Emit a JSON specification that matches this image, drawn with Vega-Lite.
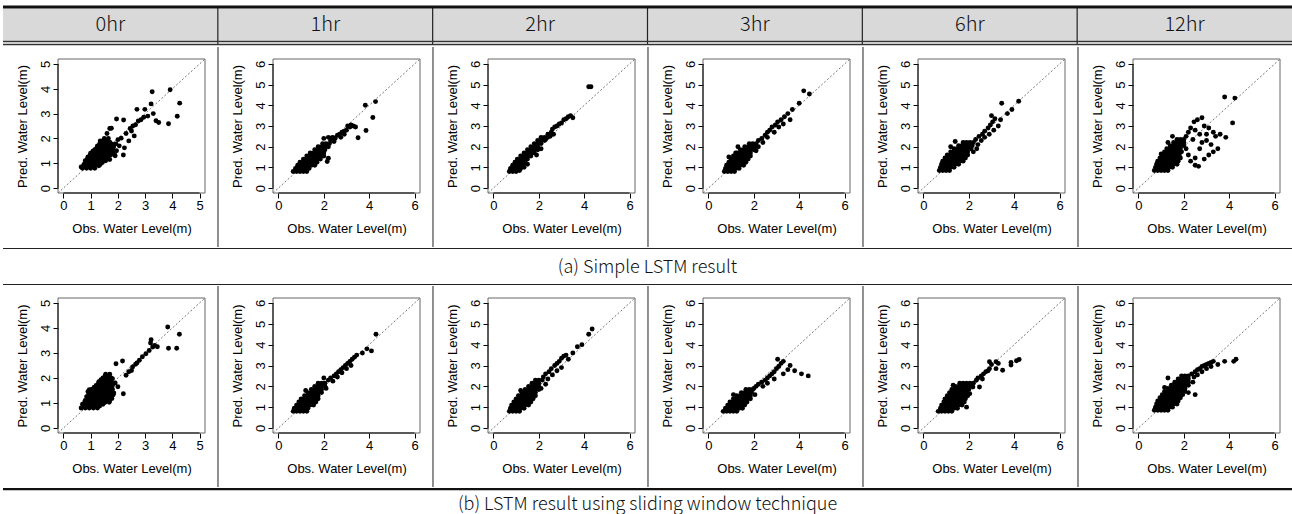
{
"$schema":"https://vega.github.io/schema/vega-lite/v6.json",
"padding":{"left":1,"top":5,"right":0,"bottom":0},
"background":"white",
"spacing":0,
"config":{"view":{"stroke":null},"concat":{"spacing":0},
 "circle":{"size":24,"color":"#000","opacity":1},
 "axis":{"domain":false,"grid":false,"tickSize":5,"tickColor":"#000","labelFont":"Liberation Sans","labelFontSize":13,"labelColor":"#000","labelFlush":false,"titleFont":"Liberation Sans","titleFontSize":13,"titleFontWeight":"normal","titleColor":"#000"},
 "axisX":{"offset":-54,"labelPadding":1,"titlePadding":10},
 "axisY":{"offset":-55,"labelPadding":1,"titlePadding":10}},
"datasets":{
"a0":[{"x":0.70,"y":0.80},{"x":0.85,"y":0.80},{"x":1.00,"y":0.80},{"x":1.15,"y":0.80},{"x":0.75,"y":0.95},{"x":0.90,"y":0.95},{"x":1.05,"y":0.95},{"x":1.20,"y":0.95},{"x":1.35,"y":0.95},{"x":0.80,"y":1.10},{"x":0.95,"y":1.10},{"x":1.10,"y":1.10},{"x":1.25,"y":1.10},{"x":1.40,"y":1.10},{"x":1.55,"y":1.10},{"x":0.90,"y":1.25},{"x":1.05,"y":1.25},{"x":1.20,"y":1.25},{"x":1.35,"y":1.25},{"x":1.50,"y":1.25},{"x":1.65,"y":1.25},{"x":1.00,"y":1.40},{"x":1.15,"y":1.40},{"x":1.30,"y":1.40},{"x":1.45,"y":1.40},{"x":1.60,"y":1.40},{"x":1.75,"y":1.40},{"x":1.15,"y":1.55},{"x":1.30,"y":1.55},{"x":1.45,"y":1.55},{"x":1.60,"y":1.55},{"x":1.75,"y":1.55},{"x":1.25,"y":1.70},{"x":1.40,"y":1.70},{"x":1.55,"y":1.70},{"x":1.70,"y":1.70},{"x":1.85,"y":1.70},{"x":1.40,"y":1.85},{"x":1.55,"y":1.85},{"x":1.70,"y":1.85},{"x":1.50,"y":2.00},{"x":1.65,"y":2.00},{"x":0.78,"y":0.88},{"x":0.93,"y":0.88},{"x":1.08,"y":0.88},{"x":0.83,"y":1.03},{"x":0.98,"y":1.03},{"x":1.13,"y":1.03},{"x":1.28,"y":1.03},{"x":1.43,"y":1.03},{"x":0.88,"y":1.18},{"x":1.03,"y":1.18},{"x":1.18,"y":1.18},{"x":1.33,"y":1.18},{"x":1.48,"y":1.18},{"x":1.63,"y":1.18},{"x":0.98,"y":1.33},{"x":1.13,"y":1.33},{"x":1.28,"y":1.33},{"x":1.43,"y":1.33},{"x":1.58,"y":1.33},{"x":1.73,"y":1.33},{"x":1.88,"y":1.33},{"x":1.08,"y":1.48},{"x":1.23,"y":1.48},{"x":1.38,"y":1.48},{"x":1.53,"y":1.48},{"x":1.68,"y":1.48},{"x":1.83,"y":1.48},{"x":1.23,"y":1.63},{"x":1.38,"y":1.63},{"x":1.53,"y":1.63},{"x":1.68,"y":1.63},{"x":1.83,"y":1.63},{"x":1.33,"y":1.78},{"x":1.48,"y":1.78},{"x":1.63,"y":1.78},{"x":1.78,"y":1.78},{"x":1.93,"y":1.78},{"x":1.48,"y":1.93},{"x":1.63,"y":1.93},{"x":1.90,"y":1.30},{"x":1.95,"y":1.50},{"x":2.05,"y":1.70},{"x":2.00,"y":1.95},{"x":1.35,"y":1.90},{"x":1.60,"y":2.20},{"x":1.70,"y":2.40},{"x":0.65,"y":0.85},{"x":1.30,"y":0.90},{"x":1.70,"y":1.15},{"x":2.20,"y":1.33},{"x":2.24,"y":1.62},{"x":2.12,"y":2.01},{"x":1.95,"y":2.78},{"x":2.21,"y":2.74},{"x":1.76,"y":2.41},{"x":2.30,"y":2.20},{"x":2.45,"y":2.40},{"x":2.55,"y":2.50},{"x":2.65,"y":2.55},{"x":2.75,"y":2.70},{"x":2.85,"y":2.75},{"x":2.95,"y":2.85},{"x":2.50,"y":2.30},{"x":2.70,"y":3.17},{"x":2.99,"y":3.17},{"x":3.22,"y":3.39},{"x":3.30,"y":3.00},{"x":3.26,"y":3.88},{"x":3.92,"y":3.96},{"x":4.27,"y":3.42},{"x":4.18,"y":2.89},{"x":3.86,"y":2.59},{"x":3.50,"y":2.64},{"x":3.40,"y":2.71},{"x":3.10,"y":2.90},{"x":2.40,"y":1.90},{"x":2.60,"y":2.10}],
"a1":[{"x":0.65,"y":0.80},{"x":0.80,"y":0.80},{"x":0.95,"y":0.80},{"x":1.10,"y":0.80},{"x":1.25,"y":0.80},{"x":0.75,"y":0.95},{"x":0.90,"y":0.95},{"x":1.05,"y":0.95},{"x":1.20,"y":0.95},{"x":1.35,"y":0.95},{"x":0.85,"y":1.10},{"x":1.00,"y":1.10},{"x":1.15,"y":1.10},{"x":1.30,"y":1.10},{"x":1.45,"y":1.10},{"x":1.60,"y":1.10},{"x":0.95,"y":1.25},{"x":1.10,"y":1.25},{"x":1.25,"y":1.25},{"x":1.40,"y":1.25},{"x":1.55,"y":1.25},{"x":1.70,"y":1.25},{"x":1.10,"y":1.40},{"x":1.25,"y":1.40},{"x":1.40,"y":1.40},{"x":1.55,"y":1.40},{"x":1.70,"y":1.40},{"x":1.85,"y":1.40},{"x":1.25,"y":1.55},{"x":1.40,"y":1.55},{"x":1.55,"y":1.55},{"x":1.70,"y":1.55},{"x":1.85,"y":1.55},{"x":2.00,"y":1.55},{"x":1.40,"y":1.70},{"x":1.55,"y":1.70},{"x":1.70,"y":1.70},{"x":1.85,"y":1.70},{"x":2.00,"y":1.70},{"x":1.60,"y":1.85},{"x":1.75,"y":1.85},{"x":1.90,"y":1.85},{"x":2.05,"y":1.85},{"x":1.75,"y":2.00},{"x":1.90,"y":2.00},{"x":2.05,"y":2.00},{"x":2.20,"y":2.00},{"x":1.95,"y":2.15},{"x":2.10,"y":2.15},{"x":2.25,"y":2.15},{"x":2.30,"y":2.30},{"x":2.40,"y":2.45},{"x":2.50,"y":2.40},{"x":2.60,"y":2.55},{"x":2.70,"y":2.60},{"x":2.80,"y":2.70},{"x":2.90,"y":2.75},{"x":3.00,"y":2.80},{"x":3.05,"y":3.00},{"x":3.15,"y":2.95},{"x":3.20,"y":3.05},{"x":3.30,"y":3.00},{"x":3.40,"y":2.95},{"x":2.20,"y":1.44},{"x":2.15,"y":1.28},{"x":2.45,"y":2.25},{"x":2.00,"y":2.40},{"x":2.20,"y":2.45},{"x":2.35,"y":2.42},{"x":3.51,"y":2.43},{"x":3.86,"y":2.78},{"x":3.83,"y":4.00},{"x":4.28,"y":4.18},{"x":4.16,"y":3.41},{"x":2.90,"y":2.60},{"x":2.75,"y":2.45}],
"a2":[{"x":0.70,"y":0.80},{"x":0.85,"y":0.80},{"x":1.00,"y":0.80},{"x":0.75,"y":0.95},{"x":0.90,"y":0.95},{"x":1.05,"y":0.95},{"x":1.20,"y":0.95},{"x":0.85,"y":1.10},{"x":1.00,"y":1.10},{"x":1.15,"y":1.10},{"x":1.30,"y":1.10},{"x":0.95,"y":1.25},{"x":1.10,"y":1.25},{"x":1.25,"y":1.25},{"x":1.40,"y":1.25},{"x":1.05,"y":1.40},{"x":1.20,"y":1.40},{"x":1.35,"y":1.40},{"x":1.50,"y":1.40},{"x":1.20,"y":1.55},{"x":1.35,"y":1.55},{"x":1.50,"y":1.55},{"x":1.65,"y":1.55},{"x":1.35,"y":1.70},{"x":1.50,"y":1.70},{"x":1.65,"y":1.70},{"x":1.80,"y":1.70},{"x":1.50,"y":1.85},{"x":1.65,"y":1.85},{"x":1.80,"y":1.85},{"x":1.95,"y":1.85},{"x":1.65,"y":2.00},{"x":1.80,"y":2.00},{"x":1.95,"y":2.00},{"x":1.80,"y":2.15},{"x":1.95,"y":2.15},{"x":2.10,"y":2.15},{"x":1.95,"y":2.30},{"x":2.10,"y":2.30},{"x":2.25,"y":2.30},{"x":2.10,"y":2.45},{"x":2.25,"y":2.45},{"x":2.40,"y":2.45},{"x":2.40,"y":2.60},{"x":2.55,"y":2.70},{"x":2.60,"y":2.85},{"x":2.70,"y":2.95},{"x":2.80,"y":3.00},{"x":2.90,"y":3.10},{"x":3.00,"y":3.15},{"x":3.10,"y":3.30},{"x":3.20,"y":3.35},{"x":3.30,"y":3.45},{"x":3.40,"y":3.50},{"x":2.50,"y":2.50},{"x":2.65,"y":2.60},{"x":2.30,"y":2.35},{"x":1.15,"y":0.85},{"x":1.35,"y":1.00},{"x":1.50,"y":1.15},{"x":1.90,"y":1.60},{"x":2.10,"y":1.90},{"x":4.20,"y":4.90},{"x":4.30,"y":4.90},{"x":3.50,"y":3.40}],
"a3":[{"x":0.70,"y":0.80},{"x":0.85,"y":0.80},{"x":1.00,"y":0.80},{"x":1.15,"y":0.80},{"x":0.75,"y":0.95},{"x":0.90,"y":0.95},{"x":1.05,"y":0.95},{"x":1.20,"y":0.95},{"x":1.35,"y":0.95},{"x":0.80,"y":1.10},{"x":0.95,"y":1.10},{"x":1.10,"y":1.10},{"x":1.25,"y":1.10},{"x":1.40,"y":1.10},{"x":1.55,"y":1.10},{"x":0.90,"y":1.25},{"x":1.05,"y":1.25},{"x":1.20,"y":1.25},{"x":1.35,"y":1.25},{"x":1.50,"y":1.25},{"x":1.65,"y":1.25},{"x":1.00,"y":1.40},{"x":1.15,"y":1.40},{"x":1.30,"y":1.40},{"x":1.45,"y":1.40},{"x":1.60,"y":1.40},{"x":1.75,"y":1.40},{"x":1.10,"y":1.55},{"x":1.25,"y":1.55},{"x":1.40,"y":1.55},{"x":1.55,"y":1.55},{"x":1.70,"y":1.55},{"x":1.85,"y":1.55},{"x":1.25,"y":1.70},{"x":1.40,"y":1.70},{"x":1.55,"y":1.70},{"x":1.70,"y":1.70},{"x":1.85,"y":1.70},{"x":1.40,"y":1.85},{"x":1.55,"y":1.85},{"x":1.70,"y":1.85},{"x":1.85,"y":1.85},{"x":2.00,"y":1.85},{"x":1.60,"y":2.00},{"x":1.75,"y":2.00},{"x":1.90,"y":2.00},{"x":2.05,"y":2.00},{"x":1.80,"y":2.15},{"x":1.95,"y":2.15},{"x":2.10,"y":2.15},{"x":2.20,"y":2.30},{"x":2.35,"y":2.40},{"x":2.50,"y":2.55},{"x":2.60,"y":2.70},{"x":2.70,"y":2.80},{"x":2.80,"y":2.95},{"x":2.95,"y":3.05},{"x":3.05,"y":3.20},{"x":3.20,"y":3.30},{"x":3.35,"y":3.45},{"x":3.50,"y":3.60},{"x":2.40,"y":2.20},{"x":2.60,"y":2.45},{"x":2.90,"y":2.70},{"x":3.10,"y":2.95},{"x":3.30,"y":3.10},{"x":2.10,"y":1.80},{"x":2.20,"y":2.00},{"x":1.30,"y":2.00},{"x":1.20,"y":1.70},{"x":4.20,"y":4.70},{"x":4.45,"y":4.55},{"x":4.00,"y":4.10},{"x":3.70,"y":3.80},{"x":3.60,"y":3.30},{"x":0.90,"y":1.50}],
"a4":[{"x":0.70,"y":0.85},{"x":0.85,"y":0.85},{"x":1.00,"y":0.85},{"x":1.15,"y":0.85},{"x":0.75,"y":1.00},{"x":0.90,"y":1.00},{"x":1.05,"y":1.00},{"x":1.20,"y":1.00},{"x":1.35,"y":1.00},{"x":0.80,"y":1.15},{"x":0.95,"y":1.15},{"x":1.10,"y":1.15},{"x":1.25,"y":1.15},{"x":1.40,"y":1.15},{"x":1.55,"y":1.15},{"x":0.85,"y":1.30},{"x":1.00,"y":1.30},{"x":1.15,"y":1.30},{"x":1.30,"y":1.30},{"x":1.45,"y":1.30},{"x":1.60,"y":1.30},{"x":1.75,"y":1.30},{"x":0.95,"y":1.45},{"x":1.10,"y":1.45},{"x":1.25,"y":1.45},{"x":1.40,"y":1.45},{"x":1.55,"y":1.45},{"x":1.70,"y":1.45},{"x":1.85,"y":1.45},{"x":1.05,"y":1.60},{"x":1.20,"y":1.60},{"x":1.35,"y":1.60},{"x":1.50,"y":1.60},{"x":1.65,"y":1.60},{"x":1.80,"y":1.60},{"x":1.95,"y":1.60},{"x":1.20,"y":1.75},{"x":1.35,"y":1.75},{"x":1.50,"y":1.75},{"x":1.65,"y":1.75},{"x":1.80,"y":1.75},{"x":1.95,"y":1.75},{"x":1.35,"y":1.90},{"x":1.50,"y":1.90},{"x":1.65,"y":1.90},{"x":1.80,"y":1.90},{"x":1.95,"y":1.90},{"x":2.10,"y":1.90},{"x":1.55,"y":2.05},{"x":1.70,"y":2.05},{"x":1.85,"y":2.05},{"x":2.00,"y":2.05},{"x":2.15,"y":2.05},{"x":1.75,"y":2.20},{"x":1.90,"y":2.20},{"x":2.05,"y":2.20},{"x":2.20,"y":2.20},{"x":2.30,"y":2.35},{"x":2.45,"y":2.50},{"x":2.60,"y":2.60},{"x":2.70,"y":2.75},{"x":2.85,"y":2.90},{"x":2.95,"y":3.05},{"x":3.05,"y":3.20},{"x":3.15,"y":3.35},{"x":2.40,"y":2.10},{"x":2.55,"y":2.30},{"x":2.70,"y":2.45},{"x":2.90,"y":2.60},{"x":3.10,"y":2.80},{"x":3.30,"y":3.00},{"x":2.20,"y":1.75},{"x":2.35,"y":1.90},{"x":1.20,"y":2.00},{"x":1.40,"y":2.25},{"x":3.45,"y":4.10},{"x":3.70,"y":3.60},{"x":4.20,"y":4.20},{"x":3.90,"y":3.80},{"x":3.40,"y":3.30},{"x":3.00,"y":3.50}],
"a5":[{"x":0.70,"y":0.85},{"x":0.85,"y":0.85},{"x":1.00,"y":0.85},{"x":1.15,"y":0.85},{"x":1.30,"y":0.85},{"x":0.75,"y":1.00},{"x":0.90,"y":1.00},{"x":1.05,"y":1.00},{"x":1.20,"y":1.00},{"x":1.35,"y":1.00},{"x":1.50,"y":1.00},{"x":0.80,"y":1.15},{"x":0.95,"y":1.15},{"x":1.10,"y":1.15},{"x":1.25,"y":1.15},{"x":1.40,"y":1.15},{"x":1.55,"y":1.15},{"x":1.70,"y":1.15},{"x":0.85,"y":1.30},{"x":1.00,"y":1.30},{"x":1.15,"y":1.30},{"x":1.30,"y":1.30},{"x":1.45,"y":1.30},{"x":1.60,"y":1.30},{"x":1.75,"y":1.30},{"x":0.95,"y":1.45},{"x":1.10,"y":1.45},{"x":1.25,"y":1.45},{"x":1.40,"y":1.45},{"x":1.55,"y":1.45},{"x":1.70,"y":1.45},{"x":1.85,"y":1.45},{"x":1.05,"y":1.60},{"x":1.20,"y":1.60},{"x":1.35,"y":1.60},{"x":1.50,"y":1.60},{"x":1.65,"y":1.60},{"x":1.80,"y":1.60},{"x":1.15,"y":1.75},{"x":1.30,"y":1.75},{"x":1.45,"y":1.75},{"x":1.60,"y":1.75},{"x":1.75,"y":1.75},{"x":1.90,"y":1.75},{"x":1.25,"y":1.90},{"x":1.40,"y":1.90},{"x":1.55,"y":1.90},{"x":1.70,"y":1.90},{"x":1.85,"y":1.90},{"x":1.40,"y":2.05},{"x":1.55,"y":2.05},{"x":1.70,"y":2.05},{"x":1.85,"y":2.05},{"x":2.00,"y":2.05},{"x":1.55,"y":2.20},{"x":1.70,"y":2.20},{"x":1.85,"y":2.20},{"x":2.00,"y":2.20},{"x":1.70,"y":2.35},{"x":1.85,"y":2.35},{"x":2.00,"y":2.35},{"x":2.10,"y":2.50},{"x":2.20,"y":2.70},{"x":2.30,"y":2.90},{"x":2.45,"y":3.20},{"x":2.60,"y":3.30},{"x":2.80,"y":3.40},{"x":2.50,"y":2.80},{"x":2.70,"y":2.60},{"x":2.90,"y":3.00},{"x":3.10,"y":2.90},{"x":3.30,"y":2.70},{"x":3.40,"y":2.50},{"x":3.00,"y":2.30},{"x":2.80,"y":2.20},{"x":3.20,"y":2.10},{"x":3.50,"y":1.90},{"x":3.30,"y":1.75},{"x":3.10,"y":1.60},{"x":2.90,"y":1.40},{"x":2.70,"y":1.90},{"x":2.50,"y":1.45},{"x":2.30,"y":1.30},{"x":2.50,"y":1.10},{"x":2.65,"y":1.05},{"x":2.20,"y":1.60},{"x":2.10,"y":1.90},{"x":1.30,"y":2.20},{"x":1.50,"y":2.50},{"x":1.00,"y":1.65},{"x":3.80,"y":4.40},{"x":4.25,"y":4.35},{"x":4.15,"y":3.15},{"x":3.85,"y":2.45},{"x":3.60,"y":2.60},{"x":3.00,"y":2.60},{"x":2.40,"y":2.35}],
"b0":[{"x":0.65,"y":0.80},{"x":0.80,"y":0.80},{"x":0.95,"y":0.80},{"x":1.10,"y":0.80},{"x":1.25,"y":0.80},{"x":0.70,"y":0.95},{"x":0.85,"y":0.95},{"x":1.00,"y":0.95},{"x":1.15,"y":0.95},{"x":1.30,"y":0.95},{"x":1.45,"y":0.95},{"x":0.80,"y":1.10},{"x":0.95,"y":1.10},{"x":1.10,"y":1.10},{"x":1.25,"y":1.10},{"x":1.40,"y":1.10},{"x":1.55,"y":1.10},{"x":1.70,"y":1.10},{"x":0.85,"y":1.25},{"x":1.00,"y":1.25},{"x":1.15,"y":1.25},{"x":1.30,"y":1.25},{"x":1.45,"y":1.25},{"x":1.60,"y":1.25},{"x":1.75,"y":1.25},{"x":0.95,"y":1.40},{"x":1.10,"y":1.40},{"x":1.25,"y":1.40},{"x":1.40,"y":1.40},{"x":1.55,"y":1.40},{"x":1.70,"y":1.40},{"x":1.85,"y":1.40},{"x":1.05,"y":1.55},{"x":1.20,"y":1.55},{"x":1.35,"y":1.55},{"x":1.50,"y":1.55},{"x":1.65,"y":1.55},{"x":1.80,"y":1.55},{"x":1.20,"y":1.70},{"x":1.35,"y":1.70},{"x":1.50,"y":1.70},{"x":1.65,"y":1.70},{"x":1.80,"y":1.70},{"x":1.30,"y":1.85},{"x":1.45,"y":1.85},{"x":1.60,"y":1.85},{"x":1.75,"y":1.85},{"x":1.45,"y":2.00},{"x":1.60,"y":2.00},{"x":1.75,"y":2.00},{"x":1.55,"y":2.15},{"x":1.70,"y":2.15},{"x":0.73,"y":0.88},{"x":0.88,"y":0.88},{"x":1.03,"y":0.88},{"x":1.18,"y":0.88},{"x":1.33,"y":0.88},{"x":0.78,"y":1.03},{"x":0.93,"y":1.03},{"x":1.08,"y":1.03},{"x":1.23,"y":1.03},{"x":1.38,"y":1.03},{"x":1.53,"y":1.03},{"x":1.68,"y":1.03},{"x":0.88,"y":1.18},{"x":1.03,"y":1.18},{"x":1.18,"y":1.18},{"x":1.33,"y":1.18},{"x":1.48,"y":1.18},{"x":1.63,"y":1.18},{"x":1.78,"y":1.18},{"x":0.93,"y":1.33},{"x":1.08,"y":1.33},{"x":1.23,"y":1.33},{"x":1.38,"y":1.33},{"x":1.53,"y":1.33},{"x":1.68,"y":1.33},{"x":1.83,"y":1.33},{"x":1.03,"y":1.48},{"x":1.18,"y":1.48},{"x":1.33,"y":1.48},{"x":1.48,"y":1.48},{"x":1.63,"y":1.48},{"x":1.78,"y":1.48},{"x":1.13,"y":1.63},{"x":1.28,"y":1.63},{"x":1.43,"y":1.63},{"x":1.58,"y":1.63},{"x":1.73,"y":1.63},{"x":1.28,"y":1.78},{"x":1.43,"y":1.78},{"x":1.58,"y":1.78},{"x":1.73,"y":1.78},{"x":1.38,"y":1.93},{"x":1.53,"y":1.93},{"x":1.68,"y":1.93},{"x":1.53,"y":2.08},{"x":1.68,"y":2.08},{"x":0.95,"y":1.53},{"x":0.90,"y":1.45},{"x":1.80,"y":1.97},{"x":1.90,"y":1.80},{"x":2.00,"y":1.65},{"x":2.20,"y":1.37},{"x":2.30,"y":2.11},{"x":2.40,"y":2.25},{"x":2.54,"y":2.44},{"x":2.65,"y":2.55},{"x":2.79,"y":2.71},{"x":2.90,"y":2.85},{"x":3.03,"y":2.97},{"x":3.15,"y":3.10},{"x":3.28,"y":3.24},{"x":3.22,"y":3.53},{"x":3.20,"y":3.40},{"x":3.35,"y":3.30},{"x":3.45,"y":3.25},{"x":1.93,"y":2.57},{"x":2.17,"y":2.68},{"x":3.83,"y":4.04},{"x":4.26,"y":3.75},{"x":4.16,"y":3.19},{"x":3.86,"y":3.19},{"x":2.50,"y":2.30},{"x":2.70,"y":2.60}],
"b1":[{"x":0.65,"y":0.80},{"x":0.80,"y":0.80},{"x":0.95,"y":0.80},{"x":1.10,"y":0.80},{"x":1.25,"y":0.80},{"x":0.70,"y":0.95},{"x":0.85,"y":0.95},{"x":1.00,"y":0.95},{"x":1.15,"y":0.95},{"x":1.30,"y":0.95},{"x":0.80,"y":1.10},{"x":0.95,"y":1.10},{"x":1.10,"y":1.10},{"x":1.25,"y":1.10},{"x":1.40,"y":1.10},{"x":1.55,"y":1.10},{"x":0.90,"y":1.25},{"x":1.05,"y":1.25},{"x":1.20,"y":1.25},{"x":1.35,"y":1.25},{"x":1.50,"y":1.25},{"x":1.65,"y":1.25},{"x":1.00,"y":1.40},{"x":1.15,"y":1.40},{"x":1.30,"y":1.40},{"x":1.45,"y":1.40},{"x":1.60,"y":1.40},{"x":1.75,"y":1.40},{"x":1.15,"y":1.55},{"x":1.30,"y":1.55},{"x":1.45,"y":1.55},{"x":1.60,"y":1.55},{"x":1.75,"y":1.55},{"x":1.30,"y":1.70},{"x":1.45,"y":1.70},{"x":1.60,"y":1.70},{"x":1.75,"y":1.70},{"x":1.90,"y":1.70},{"x":1.45,"y":1.85},{"x":1.60,"y":1.85},{"x":1.75,"y":1.85},{"x":1.90,"y":1.85},{"x":1.60,"y":2.00},{"x":1.75,"y":2.00},{"x":1.90,"y":2.00},{"x":2.05,"y":2.00},{"x":1.75,"y":2.15},{"x":1.90,"y":2.15},{"x":2.05,"y":2.15},{"x":2.20,"y":2.30},{"x":2.30,"y":2.40},{"x":2.45,"y":2.50},{"x":2.55,"y":2.60},{"x":2.65,"y":2.70},{"x":2.75,"y":2.80},{"x":2.85,"y":2.90},{"x":2.95,"y":3.00},{"x":3.05,"y":3.10},{"x":3.15,"y":3.20},{"x":3.25,"y":3.30},{"x":3.35,"y":3.40},{"x":3.45,"y":3.50},{"x":2.40,"y":2.25},{"x":2.60,"y":2.45},{"x":2.80,"y":2.65},{"x":3.00,"y":2.85},{"x":3.20,"y":3.00},{"x":2.10,"y":1.90},{"x":2.00,"y":2.40},{"x":3.70,"y":3.60},{"x":3.90,"y":3.80},{"x":4.10,"y":3.70},{"x":4.30,"y":4.50},{"x":1.20,"y":1.80}],
"b2":[{"x":0.70,"y":0.80},{"x":0.85,"y":0.80},{"x":1.00,"y":0.80},{"x":1.15,"y":0.80},{"x":0.75,"y":0.95},{"x":0.90,"y":0.95},{"x":1.05,"y":0.95},{"x":1.20,"y":0.95},{"x":1.35,"y":0.95},{"x":0.80,"y":1.10},{"x":0.95,"y":1.10},{"x":1.10,"y":1.10},{"x":1.25,"y":1.10},{"x":1.40,"y":1.10},{"x":1.55,"y":1.10},{"x":0.90,"y":1.25},{"x":1.05,"y":1.25},{"x":1.20,"y":1.25},{"x":1.35,"y":1.25},{"x":1.50,"y":1.25},{"x":1.65,"y":1.25},{"x":1.00,"y":1.40},{"x":1.15,"y":1.40},{"x":1.30,"y":1.40},{"x":1.45,"y":1.40},{"x":1.60,"y":1.40},{"x":1.75,"y":1.40},{"x":1.10,"y":1.55},{"x":1.25,"y":1.55},{"x":1.40,"y":1.55},{"x":1.55,"y":1.55},{"x":1.70,"y":1.55},{"x":1.85,"y":1.55},{"x":1.25,"y":1.70},{"x":1.40,"y":1.70},{"x":1.55,"y":1.70},{"x":1.70,"y":1.70},{"x":1.85,"y":1.70},{"x":1.40,"y":1.85},{"x":1.55,"y":1.85},{"x":1.70,"y":1.85},{"x":1.85,"y":1.85},{"x":2.00,"y":1.85},{"x":1.55,"y":2.00},{"x":1.70,"y":2.00},{"x":1.85,"y":2.00},{"x":2.00,"y":2.00},{"x":1.70,"y":2.15},{"x":1.85,"y":2.15},{"x":2.00,"y":2.15},{"x":1.85,"y":2.30},{"x":2.00,"y":2.30},{"x":2.15,"y":2.30},{"x":2.20,"y":2.45},{"x":2.30,"y":2.60},{"x":2.45,"y":2.70},{"x":2.55,"y":2.85},{"x":2.70,"y":3.00},{"x":2.80,"y":3.10},{"x":2.90,"y":3.20},{"x":3.00,"y":3.35},{"x":3.10,"y":3.45},{"x":3.20,"y":3.50},{"x":2.40,"y":2.35},{"x":2.60,"y":2.55},{"x":2.80,"y":2.75},{"x":3.00,"y":2.90},{"x":3.30,"y":3.30},{"x":3.50,"y":3.60},{"x":3.70,"y":3.90},{"x":3.90,"y":4.00},{"x":4.20,"y":4.50},{"x":4.35,"y":4.75},{"x":2.10,"y":1.90},{"x":2.30,"y":2.10},{"x":1.20,"y":1.80}],
"b3":[{"x":0.65,"y":0.80},{"x":0.80,"y":0.80},{"x":0.95,"y":0.80},{"x":1.10,"y":0.80},{"x":1.25,"y":0.80},{"x":0.75,"y":0.95},{"x":0.90,"y":0.95},{"x":1.05,"y":0.95},{"x":1.20,"y":0.95},{"x":1.35,"y":0.95},{"x":1.50,"y":0.95},{"x":0.85,"y":1.10},{"x":1.00,"y":1.10},{"x":1.15,"y":1.10},{"x":1.30,"y":1.10},{"x":1.45,"y":1.10},{"x":1.60,"y":1.10},{"x":0.95,"y":1.25},{"x":1.10,"y":1.25},{"x":1.25,"y":1.25},{"x":1.40,"y":1.25},{"x":1.55,"y":1.25},{"x":1.70,"y":1.25},{"x":1.10,"y":1.40},{"x":1.25,"y":1.40},{"x":1.40,"y":1.40},{"x":1.55,"y":1.40},{"x":1.70,"y":1.40},{"x":1.85,"y":1.40},{"x":1.25,"y":1.55},{"x":1.40,"y":1.55},{"x":1.55,"y":1.55},{"x":1.70,"y":1.55},{"x":1.85,"y":1.55},{"x":1.45,"y":1.70},{"x":1.60,"y":1.70},{"x":1.75,"y":1.70},{"x":1.90,"y":1.70},{"x":1.65,"y":1.85},{"x":1.80,"y":1.85},{"x":1.95,"y":1.85},{"x":2.00,"y":1.90},{"x":2.10,"y":2.00},{"x":2.20,"y":2.10},{"x":2.35,"y":2.20},{"x":2.50,"y":2.30},{"x":2.60,"y":2.40},{"x":2.70,"y":2.50},{"x":2.80,"y":2.60},{"x":2.90,"y":2.70},{"x":3.00,"y":2.85},{"x":3.10,"y":2.95},{"x":3.20,"y":3.10},{"x":3.30,"y":3.20},{"x":2.40,"y":2.00},{"x":2.60,"y":2.15},{"x":2.90,"y":2.35},{"x":3.30,"y":2.60},{"x":3.50,"y":2.80},{"x":3.60,"y":3.00},{"x":3.80,"y":2.75},{"x":4.10,"y":2.60},{"x":4.40,"y":2.50},{"x":2.05,"y":1.60},{"x":1.10,"y":1.60},{"x":3.05,"y":3.30}],
"b4":[{"x":0.65,"y":0.80},{"x":0.80,"y":0.80},{"x":0.95,"y":0.80},{"x":1.10,"y":0.80},{"x":1.25,"y":0.80},{"x":0.75,"y":0.95},{"x":0.90,"y":0.95},{"x":1.05,"y":0.95},{"x":1.20,"y":0.95},{"x":1.35,"y":0.95},{"x":1.50,"y":0.95},{"x":0.80,"y":1.10},{"x":0.95,"y":1.10},{"x":1.10,"y":1.10},{"x":1.25,"y":1.10},{"x":1.40,"y":1.10},{"x":1.55,"y":1.10},{"x":1.70,"y":1.10},{"x":0.90,"y":1.25},{"x":1.05,"y":1.25},{"x":1.20,"y":1.25},{"x":1.35,"y":1.25},{"x":1.50,"y":1.25},{"x":1.65,"y":1.25},{"x":1.80,"y":1.25},{"x":0.95,"y":1.40},{"x":1.10,"y":1.40},{"x":1.25,"y":1.40},{"x":1.40,"y":1.40},{"x":1.55,"y":1.40},{"x":1.70,"y":1.40},{"x":1.85,"y":1.40},{"x":1.05,"y":1.55},{"x":1.20,"y":1.55},{"x":1.35,"y":1.55},{"x":1.50,"y":1.55},{"x":1.65,"y":1.55},{"x":1.80,"y":1.55},{"x":1.95,"y":1.55},{"x":1.15,"y":1.70},{"x":1.30,"y":1.70},{"x":1.45,"y":1.70},{"x":1.60,"y":1.70},{"x":1.75,"y":1.70},{"x":1.90,"y":1.70},{"x":1.25,"y":1.85},{"x":1.40,"y":1.85},{"x":1.55,"y":1.85},{"x":1.70,"y":1.85},{"x":1.85,"y":1.85},{"x":2.00,"y":1.85},{"x":1.40,"y":2.00},{"x":1.55,"y":2.00},{"x":1.70,"y":2.00},{"x":1.85,"y":2.00},{"x":2.00,"y":2.00},{"x":1.60,"y":2.15},{"x":1.75,"y":2.15},{"x":1.90,"y":2.15},{"x":2.05,"y":2.15},{"x":1.31,"y":2.05},{"x":2.04,"y":1.65},{"x":1.90,"y":1.00},{"x":2.18,"y":1.97},{"x":2.33,"y":2.29},{"x":2.47,"y":1.97},{"x":2.40,"y":2.40},{"x":2.55,"y":2.50},{"x":2.65,"y":2.60},{"x":2.75,"y":2.70},{"x":2.85,"y":2.75},{"x":2.91,"y":2.85},{"x":2.91,"y":3.18},{"x":3.00,"y":3.05},{"x":3.20,"y":3.18},{"x":3.20,"y":2.85},{"x":3.30,"y":3.10},{"x":3.49,"y":2.77},{"x":3.86,"y":3.02},{"x":3.86,"y":3.15},{"x":4.10,"y":3.23},{"x":4.22,"y":3.29},{"x":2.20,"y":2.15},{"x":2.60,"y":2.35}],
"b5":[{"x":0.70,"y":0.85},{"x":0.85,"y":0.85},{"x":1.00,"y":0.85},{"x":1.15,"y":0.85},{"x":1.30,"y":0.85},{"x":0.75,"y":1.00},{"x":0.90,"y":1.00},{"x":1.05,"y":1.00},{"x":1.20,"y":1.00},{"x":1.35,"y":1.00},{"x":1.50,"y":1.00},{"x":0.80,"y":1.15},{"x":0.95,"y":1.15},{"x":1.10,"y":1.15},{"x":1.25,"y":1.15},{"x":1.40,"y":1.15},{"x":1.55,"y":1.15},{"x":1.70,"y":1.15},{"x":0.85,"y":1.30},{"x":1.00,"y":1.30},{"x":1.15,"y":1.30},{"x":1.30,"y":1.30},{"x":1.45,"y":1.30},{"x":1.60,"y":1.30},{"x":1.75,"y":1.30},{"x":0.95,"y":1.45},{"x":1.10,"y":1.45},{"x":1.25,"y":1.45},{"x":1.40,"y":1.45},{"x":1.55,"y":1.45},{"x":1.70,"y":1.45},{"x":1.85,"y":1.45},{"x":1.05,"y":1.60},{"x":1.20,"y":1.60},{"x":1.35,"y":1.60},{"x":1.50,"y":1.60},{"x":1.65,"y":1.60},{"x":1.80,"y":1.60},{"x":1.95,"y":1.60},{"x":1.15,"y":1.75},{"x":1.30,"y":1.75},{"x":1.45,"y":1.75},{"x":1.60,"y":1.75},{"x":1.75,"y":1.75},{"x":1.90,"y":1.75},{"x":2.05,"y":1.75},{"x":1.30,"y":1.90},{"x":1.45,"y":1.90},{"x":1.60,"y":1.90},{"x":1.75,"y":1.90},{"x":1.90,"y":1.90},{"x":2.05,"y":1.90},{"x":1.45,"y":2.05},{"x":1.60,"y":2.05},{"x":1.75,"y":2.05},{"x":1.90,"y":2.05},{"x":2.05,"y":2.05},{"x":2.20,"y":2.05},{"x":1.60,"y":2.20},{"x":1.75,"y":2.20},{"x":1.90,"y":2.20},{"x":2.05,"y":2.20},{"x":2.20,"y":2.20},{"x":1.75,"y":2.35},{"x":1.90,"y":2.35},{"x":2.05,"y":2.35},{"x":2.20,"y":2.35},{"x":1.90,"y":2.50},{"x":2.05,"y":2.50},{"x":2.20,"y":2.50},{"x":2.35,"y":2.60},{"x":2.50,"y":2.70},{"x":2.60,"y":2.80},{"x":2.70,"y":2.85},{"x":2.80,"y":2.95},{"x":2.90,"y":3.00},{"x":3.00,"y":3.05},{"x":3.10,"y":3.10},{"x":3.20,"y":3.15},{"x":3.30,"y":3.20},{"x":2.45,"y":2.45},{"x":2.60,"y":2.55},{"x":2.80,"y":2.70},{"x":3.00,"y":2.85},{"x":3.20,"y":2.95},{"x":2.40,"y":2.20},{"x":2.50,"y":1.60},{"x":1.30,"y":2.40},{"x":3.50,"y":3.05},{"x":3.80,"y":3.20},{"x":4.20,"y":3.20},{"x":4.30,"y":3.30},{"x":2.20,"y":1.70},{"x":1.15,"y":1.95}]
},
"vconcat":[
{"width":1289,"height":40,
 "data":{"values":[{"h":"0hr"},{"h":"1hr"},{"h":"2hr"},{"h":"3hr"},{"h":"6hr"},{"h":"12hr"}]},
 "layer":[
  {"mark":{"type":"rect","color":"#d9d9d9"},"encoding":{"x":{"field":"h","type":"nominal","sort":null,"scale":{"paddingInner":0,"paddingOuter":0},"axis":null},"y":{"datum":3.5,"type":"quantitative","scale":{"domain":[0,40],"reverse":true,"nice":false,"zero":false},"axis":null},"y2":{"datum":35.8}}},
  {"transform":[{"filter":"datum.h !== '0hr'"}],"mark":{"type":"rule","color":"#222","strokeWidth":1.2},"encoding":{"x":{"field":"h","type":"nominal","sort":null,"bandPosition":0,"axis":null},"y":{"datum":3,"axis":null},"y2":{"datum":39.5}}},
  {"data":{"values":[{}]},"mark":{"type":"rule","color":"#111","strokeWidth":3},"encoding":{"y":{"datum":2,"axis":null}}},
  {"data":{"values":[{}]},"mark":{"type":"rule","color":"#333","strokeWidth":1.3},"encoding":{"y":{"datum":36.5,"axis":null}}},
  {"data":{"values":[{}]},"mark":{"type":"rule","color":"#333","strokeWidth":1.5},"encoding":{"y":{"datum":39.4,"axis":null}}},
  {"mark":{"type":"text","font":"Noto Sans CJK KR","fontSize":20,"fontWeight":300,"color":"#111","baseline":"middle"},"encoding":{"x":{"field":"h","type":"nominal","sort":null,"axis":null},"y":{"datum":19.5,"axis":null},"text":{"field":"h"}}}
 ]},
{"hconcat":[
 {"width":215,"height":200,"data":{"name":"a0"},"layer":[
  {"data":{"values":[{}]},"mark":{"type":"rect","fillOpacity":0,"stroke":"#666","strokeWidth":1},"encoding":{"x":{"datum":-0.2},"x2":{"datum":5.2},"y":{"datum":-0.2},"y2":{"datum":5.2}}},
  {"data":{"values":[{}]},"mark":{"type":"rule","color":"#777","strokeDash":[2,2]},"encoding":{"x":{"datum":-0.2},"x2":{"datum":5.2},"y":{"datum":-0.2},"y2":{"datum":5.2}}},
  {"data":{"values":[{}]},"mark":{"type":"rule","color":"#000"},"encoding":{"x":{"datum":0},"x2":{"datum":5},"y":{"datum":-0.2}}},
  {"data":{"values":[{}]},"mark":{"type":"rule","color":"#000"},"encoding":{"x":{"datum":-0.2},"y":{"datum":0},"y2":{"datum":5}}},
  {"mark":"circle","encoding":{"x":{"field":"x","type":"quantitative","scale":{"domain":[-0.2,5.2],"range":[55,202],"nice":false,"zero":false},"axis":{"values":[0,1,2,3,4,5],"title":"Obs. Water Level(m)"}},"y":{"field":"y","type":"quantitative","scale":{"domain":[-0.2,5.2],"range":[146,12],"nice":false,"zero":false},"axis":{"tickCount":6,"title":"Pred. Water Level(m)","labelAngle":-90,"labelAlign":"center","labelBaseline":"bottom"}}}}
 ]},
 {"width":215,"height":200,"data":{"name":"a1"},"layer":[
  {"data":{"values":[{}]},"mark":{"type":"rect","fillOpacity":0,"stroke":"#666","strokeWidth":1},"encoding":{"x":{"datum":-0.24},"x2":{"datum":6.24},"y":{"datum":-0.24},"y2":{"datum":6.24}}},
  {"data":{"values":[{}]},"mark":{"type":"rule","color":"#777","strokeDash":[2,2]},"encoding":{"x":{"datum":-0.24},"x2":{"datum":6.24},"y":{"datum":-0.24},"y2":{"datum":6.24}}},
  {"data":{"values":[{}]},"mark":{"type":"rule","color":"#000"},"encoding":{"x":{"datum":0},"x2":{"datum":6},"y":{"datum":-0.24}}},
  {"data":{"values":[{}]},"mark":{"type":"rule","color":"#000"},"encoding":{"x":{"datum":-0.24},"y":{"datum":0},"y2":{"datum":6}}},
  {"mark":"circle","encoding":{"x":{"field":"x","type":"quantitative","scale":{"domain":[-0.24,6.24],"range":[55,202],"nice":false,"zero":false},"axis":{"values":[0,1,2,3,4,5,6],"title":"Obs. Water Level(m)"}},"y":{"field":"y","type":"quantitative","scale":{"domain":[-0.24,6.24],"range":[146,12],"nice":false,"zero":false},"axis":{"tickCount":7,"title":"Pred. Water Level(m)","labelAngle":-90,"labelAlign":"center","labelBaseline":"bottom"}}}},
  {"data":{"values":[{}]},"mark":{"type":"rule","color":"#222"},"encoding":{"x":{"datum":-2.6645}}}
 ]},
 {"width":215,"height":200,"data":{"name":"a2"},"layer":[
  {"data":{"values":[{}]},"mark":{"type":"rect","fillOpacity":0,"stroke":"#666","strokeWidth":1},"encoding":{"x":{"datum":-0.24},"x2":{"datum":6.24},"y":{"datum":-0.24},"y2":{"datum":6.24}}},
  {"data":{"values":[{}]},"mark":{"type":"rule","color":"#777","strokeDash":[2,2]},"encoding":{"x":{"datum":-0.24},"x2":{"datum":6.24},"y":{"datum":-0.24},"y2":{"datum":6.24}}},
  {"data":{"values":[{}]},"mark":{"type":"rule","color":"#000"},"encoding":{"x":{"datum":0},"x2":{"datum":6},"y":{"datum":-0.24}}},
  {"data":{"values":[{}]},"mark":{"type":"rule","color":"#000"},"encoding":{"x":{"datum":-0.24},"y":{"datum":0},"y2":{"datum":6}}},
  {"mark":"circle","encoding":{"x":{"field":"x","type":"quantitative","scale":{"domain":[-0.24,6.24],"range":[55,202],"nice":false,"zero":false},"axis":{"values":[0,1,2,3,4,5,6],"title":"Obs. Water Level(m)"}},"y":{"field":"y","type":"quantitative","scale":{"domain":[-0.24,6.24],"range":[146,12],"nice":false,"zero":false},"axis":{"tickCount":7,"title":"Pred. Water Level(m)","labelAngle":-90,"labelAlign":"center","labelBaseline":"bottom"}}}},
  {"data":{"values":[{}]},"mark":{"type":"rule","color":"#222"},"encoding":{"x":{"datum":-2.6645}}}
 ]},
 {"width":215,"height":200,"data":{"name":"a3"},"layer":[
  {"data":{"values":[{}]},"mark":{"type":"rect","fillOpacity":0,"stroke":"#666","strokeWidth":1},"encoding":{"x":{"datum":-0.24},"x2":{"datum":6.24},"y":{"datum":-0.24},"y2":{"datum":6.24}}},
  {"data":{"values":[{}]},"mark":{"type":"rule","color":"#777","strokeDash":[2,2]},"encoding":{"x":{"datum":-0.24},"x2":{"datum":6.24},"y":{"datum":-0.24},"y2":{"datum":6.24}}},
  {"data":{"values":[{}]},"mark":{"type":"rule","color":"#000"},"encoding":{"x":{"datum":0},"x2":{"datum":6},"y":{"datum":-0.24}}},
  {"data":{"values":[{}]},"mark":{"type":"rule","color":"#000"},"encoding":{"x":{"datum":-0.24},"y":{"datum":0},"y2":{"datum":6}}},
  {"mark":"circle","encoding":{"x":{"field":"x","type":"quantitative","scale":{"domain":[-0.24,6.24],"range":[55,202],"nice":false,"zero":false},"axis":{"values":[0,1,2,3,4,5,6],"title":"Obs. Water Level(m)"}},"y":{"field":"y","type":"quantitative","scale":{"domain":[-0.24,6.24],"range":[146,12],"nice":false,"zero":false},"axis":{"tickCount":7,"title":"Pred. Water Level(m)","labelAngle":-90,"labelAlign":"center","labelBaseline":"bottom"}}}},
  {"data":{"values":[{}]},"mark":{"type":"rule","color":"#222"},"encoding":{"x":{"datum":-2.6645}}}
 ]},
 {"width":215,"height":200,"data":{"name":"a4"},"layer":[
  {"data":{"values":[{}]},"mark":{"type":"rect","fillOpacity":0,"stroke":"#666","strokeWidth":1},"encoding":{"x":{"datum":-0.24},"x2":{"datum":6.24},"y":{"datum":-0.24},"y2":{"datum":6.24}}},
  {"data":{"values":[{}]},"mark":{"type":"rule","color":"#777","strokeDash":[2,2]},"encoding":{"x":{"datum":-0.24},"x2":{"datum":6.24},"y":{"datum":-0.24},"y2":{"datum":6.24}}},
  {"data":{"values":[{}]},"mark":{"type":"rule","color":"#000"},"encoding":{"x":{"datum":0},"x2":{"datum":6},"y":{"datum":-0.24}}},
  {"data":{"values":[{}]},"mark":{"type":"rule","color":"#000"},"encoding":{"x":{"datum":-0.24},"y":{"datum":0},"y2":{"datum":6}}},
  {"mark":"circle","encoding":{"x":{"field":"x","type":"quantitative","scale":{"domain":[-0.24,6.24],"range":[55,202],"nice":false,"zero":false},"axis":{"values":[0,1,2,3,4,5,6],"title":"Obs. Water Level(m)"}},"y":{"field":"y","type":"quantitative","scale":{"domain":[-0.24,6.24],"range":[146,12],"nice":false,"zero":false},"axis":{"tickCount":7,"title":"Pred. Water Level(m)","labelAngle":-90,"labelAlign":"center","labelBaseline":"bottom"}}}},
  {"data":{"values":[{}]},"mark":{"type":"rule","color":"#222"},"encoding":{"x":{"datum":-2.6645}}}
 ]},
 {"width":214,"height":200,"data":{"name":"a5"},"layer":[
  {"data":{"values":[{}]},"mark":{"type":"rect","fillOpacity":0,"stroke":"#666","strokeWidth":1},"encoding":{"x":{"datum":-0.24},"x2":{"datum":6.24},"y":{"datum":-0.24},"y2":{"datum":6.24}}},
  {"data":{"values":[{}]},"mark":{"type":"rule","color":"#777","strokeDash":[2,2]},"encoding":{"x":{"datum":-0.24},"x2":{"datum":6.24},"y":{"datum":-0.24},"y2":{"datum":6.24}}},
  {"data":{"values":[{}]},"mark":{"type":"rule","color":"#000"},"encoding":{"x":{"datum":0},"x2":{"datum":6},"y":{"datum":-0.24}}},
  {"data":{"values":[{}]},"mark":{"type":"rule","color":"#000"},"encoding":{"x":{"datum":-0.24},"y":{"datum":0},"y2":{"datum":6}}},
  {"mark":"circle","encoding":{"x":{"field":"x","type":"quantitative","scale":{"domain":[-0.24,6.24],"range":[55,202],"nice":false,"zero":false},"axis":{"values":[0,1,2,3,4,5,6],"title":"Obs. Water Level(m)"}},"y":{"field":"y","type":"quantitative","scale":{"domain":[-0.24,6.24],"range":[146,12],"nice":false,"zero":false},"axis":{"tickCount":7,"title":"Pred. Water Level(m)","labelAngle":-90,"labelAlign":"center","labelBaseline":"bottom"}}}},
  {"data":{"values":[{}]},"mark":{"type":"rule","color":"#222"},"encoding":{"x":{"datum":-2.6645}}}
 ]}
],"spacing":0,"bounds":"flush"},
{"width":1289,"height":37,"data":{"values":[{"t":"(a) Simple LSTM result"}]},"layer":[
  {"mark":{"type":"rule","color":"#222","strokeWidth":1},"encoding":{"y":{"datum":0.5,"type":"quantitative","scale":{"domain":[0,37],"reverse":true,"nice":false,"zero":false},"axis":null}}},
  {"mark":{"type":"rule","color":"#222","strokeWidth":1},"encoding":{"y":{"datum":36.5,"axis":null}}},
  {"mark":{"type":"text","font":"Noto Sans CJK KR","fontSize":18,"fontWeight":300,"color":"#111","baseline":"middle"},"encoding":{"x":{"datum":0.5,"type":"quantitative","scale":{"domain":[0,1],"nice":false,"zero":false},"axis":null},"y":{"datum":20,"axis":null},"text":{"field":"t"}}}
]},
{"hconcat":[
 {"width":215,"height":201,"data":{"name":"b0"},"layer":[
  {"data":{"values":[{}]},"mark":{"type":"rect","fillOpacity":0,"stroke":"#666","strokeWidth":1},"encoding":{"x":{"datum":-0.2},"x2":{"datum":5.2},"y":{"datum":-0.2},"y2":{"datum":5.2}}},
  {"data":{"values":[{}]},"mark":{"type":"rule","color":"#777","strokeDash":[2,2]},"encoding":{"x":{"datum":-0.2},"x2":{"datum":5.2},"y":{"datum":-0.2},"y2":{"datum":5.2}}},
  {"data":{"values":[{}]},"mark":{"type":"rule","color":"#000"},"encoding":{"x":{"datum":0},"x2":{"datum":5},"y":{"datum":-0.2}}},
  {"data":{"values":[{}]},"mark":{"type":"rule","color":"#000"},"encoding":{"x":{"datum":-0.2},"y":{"datum":0},"y2":{"datum":5}}},
  {"mark":"circle","encoding":{"x":{"field":"x","type":"quantitative","scale":{"domain":[-0.2,5.2],"range":[55,202],"nice":false,"zero":false},"axis":{"values":[0,1,2,3,4,5],"title":"Obs. Water Level(m)"}},"y":{"field":"y","type":"quantitative","scale":{"domain":[-0.2,5.2],"range":[147,12],"nice":false,"zero":false},"axis":{"tickCount":6,"title":"Pred. Water Level(m)","labelAngle":-90,"labelAlign":"center","labelBaseline":"bottom"}}}}
 ]},
 {"width":215,"height":201,"data":{"name":"b1"},"layer":[
  {"data":{"values":[{}]},"mark":{"type":"rect","fillOpacity":0,"stroke":"#666","strokeWidth":1},"encoding":{"x":{"datum":-0.24},"x2":{"datum":6.24},"y":{"datum":-0.24},"y2":{"datum":6.24}}},
  {"data":{"values":[{}]},"mark":{"type":"rule","color":"#777","strokeDash":[2,2]},"encoding":{"x":{"datum":-0.24},"x2":{"datum":6.24},"y":{"datum":-0.24},"y2":{"datum":6.24}}},
  {"data":{"values":[{}]},"mark":{"type":"rule","color":"#000"},"encoding":{"x":{"datum":0},"x2":{"datum":6},"y":{"datum":-0.24}}},
  {"data":{"values":[{}]},"mark":{"type":"rule","color":"#000"},"encoding":{"x":{"datum":-0.24},"y":{"datum":0},"y2":{"datum":6}}},
  {"mark":"circle","encoding":{"x":{"field":"x","type":"quantitative","scale":{"domain":[-0.24,6.24],"range":[55,202],"nice":false,"zero":false},"axis":{"values":[0,1,2,3,4,5,6],"title":"Obs. Water Level(m)"}},"y":{"field":"y","type":"quantitative","scale":{"domain":[-0.24,6.24],"range":[147,12],"nice":false,"zero":false},"axis":{"tickCount":7,"title":"Pred. Water Level(m)","labelAngle":-90,"labelAlign":"center","labelBaseline":"bottom"}}}},
  {"data":{"values":[{}]},"mark":{"type":"rule","color":"#222"},"encoding":{"x":{"datum":-2.6645}}}
 ]},
 {"width":215,"height":201,"data":{"name":"b2"},"layer":[
  {"data":{"values":[{}]},"mark":{"type":"rect","fillOpacity":0,"stroke":"#666","strokeWidth":1},"encoding":{"x":{"datum":-0.24},"x2":{"datum":6.24},"y":{"datum":-0.24},"y2":{"datum":6.24}}},
  {"data":{"values":[{}]},"mark":{"type":"rule","color":"#777","strokeDash":[2,2]},"encoding":{"x":{"datum":-0.24},"x2":{"datum":6.24},"y":{"datum":-0.24},"y2":{"datum":6.24}}},
  {"data":{"values":[{}]},"mark":{"type":"rule","color":"#000"},"encoding":{"x":{"datum":0},"x2":{"datum":6},"y":{"datum":-0.24}}},
  {"data":{"values":[{}]},"mark":{"type":"rule","color":"#000"},"encoding":{"x":{"datum":-0.24},"y":{"datum":0},"y2":{"datum":6}}},
  {"mark":"circle","encoding":{"x":{"field":"x","type":"quantitative","scale":{"domain":[-0.24,6.24],"range":[55,202],"nice":false,"zero":false},"axis":{"values":[0,1,2,3,4,5,6],"title":"Obs. Water Level(m)"}},"y":{"field":"y","type":"quantitative","scale":{"domain":[-0.24,6.24],"range":[147,12],"nice":false,"zero":false},"axis":{"tickCount":7,"title":"Pred. Water Level(m)","labelAngle":-90,"labelAlign":"center","labelBaseline":"bottom"}}}},
  {"data":{"values":[{}]},"mark":{"type":"rule","color":"#222"},"encoding":{"x":{"datum":-2.6645}}}
 ]},
 {"width":215,"height":201,"data":{"name":"b3"},"layer":[
  {"data":{"values":[{}]},"mark":{"type":"rect","fillOpacity":0,"stroke":"#666","strokeWidth":1},"encoding":{"x":{"datum":-0.24},"x2":{"datum":6.24},"y":{"datum":-0.24},"y2":{"datum":6.24}}},
  {"data":{"values":[{}]},"mark":{"type":"rule","color":"#777","strokeDash":[2,2]},"encoding":{"x":{"datum":-0.24},"x2":{"datum":6.24},"y":{"datum":-0.24},"y2":{"datum":6.24}}},
  {"data":{"values":[{}]},"mark":{"type":"rule","color":"#000"},"encoding":{"x":{"datum":0},"x2":{"datum":6},"y":{"datum":-0.24}}},
  {"data":{"values":[{}]},"mark":{"type":"rule","color":"#000"},"encoding":{"x":{"datum":-0.24},"y":{"datum":0},"y2":{"datum":6}}},
  {"mark":"circle","encoding":{"x":{"field":"x","type":"quantitative","scale":{"domain":[-0.24,6.24],"range":[55,202],"nice":false,"zero":false},"axis":{"values":[0,1,2,3,4,5,6],"title":"Obs. Water Level(m)"}},"y":{"field":"y","type":"quantitative","scale":{"domain":[-0.24,6.24],"range":[147,12],"nice":false,"zero":false},"axis":{"tickCount":7,"title":"Pred. Water Level(m)","labelAngle":-90,"labelAlign":"center","labelBaseline":"bottom"}}}},
  {"data":{"values":[{}]},"mark":{"type":"rule","color":"#222"},"encoding":{"x":{"datum":-2.6645}}}
 ]},
 {"width":215,"height":201,"data":{"name":"b4"},"layer":[
  {"data":{"values":[{}]},"mark":{"type":"rect","fillOpacity":0,"stroke":"#666","strokeWidth":1},"encoding":{"x":{"datum":-0.24},"x2":{"datum":6.24},"y":{"datum":-0.24},"y2":{"datum":6.24}}},
  {"data":{"values":[{}]},"mark":{"type":"rule","color":"#777","strokeDash":[2,2]},"encoding":{"x":{"datum":-0.24},"x2":{"datum":6.24},"y":{"datum":-0.24},"y2":{"datum":6.24}}},
  {"data":{"values":[{}]},"mark":{"type":"rule","color":"#000"},"encoding":{"x":{"datum":0},"x2":{"datum":6},"y":{"datum":-0.24}}},
  {"data":{"values":[{}]},"mark":{"type":"rule","color":"#000"},"encoding":{"x":{"datum":-0.24},"y":{"datum":0},"y2":{"datum":6}}},
  {"mark":"circle","encoding":{"x":{"field":"x","type":"quantitative","scale":{"domain":[-0.24,6.24],"range":[55,202],"nice":false,"zero":false},"axis":{"values":[0,1,2,3,4,5,6],"title":"Obs. Water Level(m)"}},"y":{"field":"y","type":"quantitative","scale":{"domain":[-0.24,6.24],"range":[147,12],"nice":false,"zero":false},"axis":{"tickCount":7,"title":"Pred. Water Level(m)","labelAngle":-90,"labelAlign":"center","labelBaseline":"bottom"}}}},
  {"data":{"values":[{}]},"mark":{"type":"rule","color":"#222"},"encoding":{"x":{"datum":-2.6645}}}
 ]},
 {"width":214,"height":201,"data":{"name":"b5"},"layer":[
  {"data":{"values":[{}]},"mark":{"type":"rect","fillOpacity":0,"stroke":"#666","strokeWidth":1},"encoding":{"x":{"datum":-0.24},"x2":{"datum":6.24},"y":{"datum":-0.24},"y2":{"datum":6.24}}},
  {"data":{"values":[{}]},"mark":{"type":"rule","color":"#777","strokeDash":[2,2]},"encoding":{"x":{"datum":-0.24},"x2":{"datum":6.24},"y":{"datum":-0.24},"y2":{"datum":6.24}}},
  {"data":{"values":[{}]},"mark":{"type":"rule","color":"#000"},"encoding":{"x":{"datum":0},"x2":{"datum":6},"y":{"datum":-0.24}}},
  {"data":{"values":[{}]},"mark":{"type":"rule","color":"#000"},"encoding":{"x":{"datum":-0.24},"y":{"datum":0},"y2":{"datum":6}}},
  {"mark":"circle","encoding":{"x":{"field":"x","type":"quantitative","scale":{"domain":[-0.24,6.24],"range":[55,202],"nice":false,"zero":false},"axis":{"values":[0,1,2,3,4,5,6],"title":"Obs. Water Level(m)"}},"y":{"field":"y","type":"quantitative","scale":{"domain":[-0.24,6.24],"range":[147,12],"nice":false,"zero":false},"axis":{"tickCount":7,"title":"Pred. Water Level(m)","labelAngle":-90,"labelAlign":"center","labelBaseline":"bottom"}}}},
  {"data":{"values":[{}]},"mark":{"type":"rule","color":"#222"},"encoding":{"x":{"datum":-2.6645}}}
 ]}
],"spacing":0,"bounds":"flush"},
{"width":1289,"height":31,"data":{"values":[{"t":"(b) LSTM result using sliding window technique"}]},"layer":[
  {"mark":{"type":"rule","color":"#111","strokeWidth":2.2},"encoding":{"y":{"datum":1.2,"type":"quantitative","scale":{"domain":[0,31],"reverse":true,"nice":false,"zero":false},"axis":null}}},
  {"mark":{"type":"text","font":"Noto Sans CJK KR","fontSize":18,"fontWeight":300,"color":"#111","baseline":"middle"},"encoding":{"x":{"datum":0.5,"type":"quantitative","scale":{"domain":[0,1],"nice":false,"zero":false},"axis":null},"y":{"datum":17,"axis":null},"text":{"field":"t"}}}
]}
]
}
